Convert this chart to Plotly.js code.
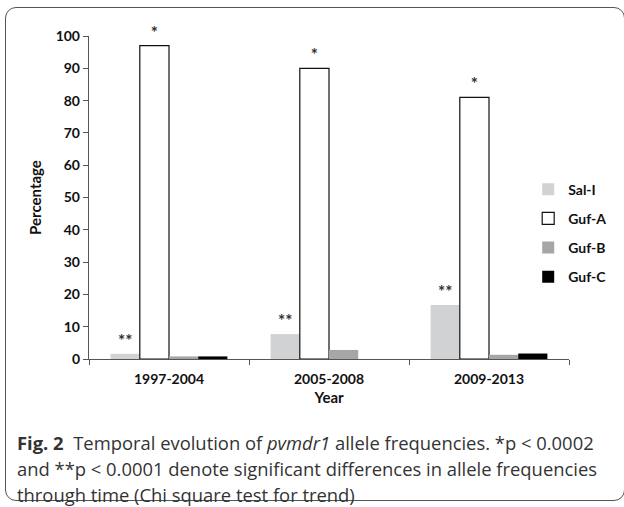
<!DOCTYPE html>
<html>
<head>
<meta charset="utf-8">
<script src="https://cdn.plot.ly/plotly-3.0.1.min.js"></script>
<style>
  html, body { margin: 0; padding: 0; background: #fff; }
  #wrap { position: relative; width: 624px; height: 507px; overflow: hidden; }
  #frame { position: absolute; left: 5px; top: 7px; width: 620px; height: 494px;
           border: 1px solid #555; border-radius: 11px; box-sizing: border-box; }
  #chart { position: absolute; left: 0; top: 0; width: 624px; height: 507px; }
  #caption { position: absolute; left: 17px; top: 430px; width: 605px; white-space: nowrap;
             font-family: "Open Sans", Lato, sans-serif; font-size: 18.4px; line-height: 26px;
             color: #333; }
</style>
</head>
<body>
<div id="wrap">
  <div id="frame"></div>
  <div id="chart"></div>
  <div id="caption"><b>Fig. 2</b>&nbsp; Temporal evolution of <i>pvmdr1</i> allele frequencies. *p &lt; 0.0002<br>and **p &lt; 0.0001 denote significant differences in allele frequencies<br>through time (Chi square test for trend)</div>
</div>
<script>
const years = ["1997-2004", "2005-2008", "2009-2013"];
const salI = [1.6, 7.7, 16.7];
const gufA = [97, 90, 81];
const gufB = [0.8, 2.8, 1.3];
const gufC = [0.8, 0, 1.7];
const salIMarks = ["**", "**", "**"];
const gufAMarks = ["*", "*", "*"];
const yTicks = [0, 10, 20, 30, 40, 50, 60, 70, 80, 90, 100];

const fontMain = "Lato, 'Open Sans', sans-serif";
const markFont = {family: fontMain, size: 17, color: "#333", weight: "bold"};

const traces = [
  {type: "bar", name: "<b>Sal-I</b>", legendgroup: "a", x: years, y: salI, text: salIMarks,
   textposition: "outside", textfont: markFont, cliponaxis: false,
   marker: {color: "#d0d2d3", line: {width: 0}}},
  {type: "bar", name: "<b>Guf-A</b>", legendgroup: "b", x: years, y: gufA, text: gufAMarks,
   textposition: "outside", textfont: markFont, cliponaxis: false,
   marker: {color: "#ffffff", line: {color: "#111", width: 1.2}}},
  {type: "bar", name: "<b>Guf-B</b>", legendgroup: "c", x: years, y: gufB,
   marker: {color: "#a6a6a6", line: {width: 0}}},
  {type: "bar", name: "<b>Guf-C</b>", legendgroup: "d", x: years, y: gufC,
   marker: {color: "#000000", line: {width: 0}}}
];

const layout = {
  width: 624, height: 507,
  margin: {l: 89, r: 21, t: 36, b: 148},
  paper_bgcolor: "rgba(0,0,0,0)", plot_bgcolor: "rgba(0,0,0,0)",
  barmode: "group", bargap: 0.27, bargroupgap: 0,
  font: {family: fontMain, color: "#111"},
  showlegend: true,
  legend: {x: 0.915, xanchor: "left", y: 0.39, yanchor: "middle",
           font: {family: fontMain, size: 14, color: "#111"},
           tracegroupgap: 8, itemwidth: 30, bgcolor: "rgba(0,0,0,0)"},
  xaxis: {
    type: "category", showline: true, linecolor: "#555", linewidth: 1.2,
    ticks: "outside", tickson: "boundaries", ticklen: 5, tickcolor: "#555",
    tickfont: {family: fontMain, size: 14, color: "#111", weight: "bold"},
    ticklabelstandoff: 7,
    title: {text: "<b>Year</b>", font: {family: fontMain, size: 15, color: "#111"}, standoff: 6},
    showgrid: false, zeroline: false, fixedrange: true
  },
  yaxis: {
    range: [0, 100], tickvals: yTicks, ticktext: yTicks.map(v => "<b>" + v + "</b>"),
    showline: true, linecolor: "#555", linewidth: 1.2,
    ticks: "outside", ticklen: 5, tickcolor: "#555",
    tickfont: {family: fontMain, size: 14, color: "#111"},
    title: {text: "<b>Percentage</b>", font: {family: fontMain, size: 15, color: "#111"}, standoff: 10},
    showgrid: false, zeroline: false, fixedrange: true
  }
};

Plotly.newPlot("chart", traces, layout, {displayModeBar: false, staticPlot: true});
</script>
</body>
</html>
